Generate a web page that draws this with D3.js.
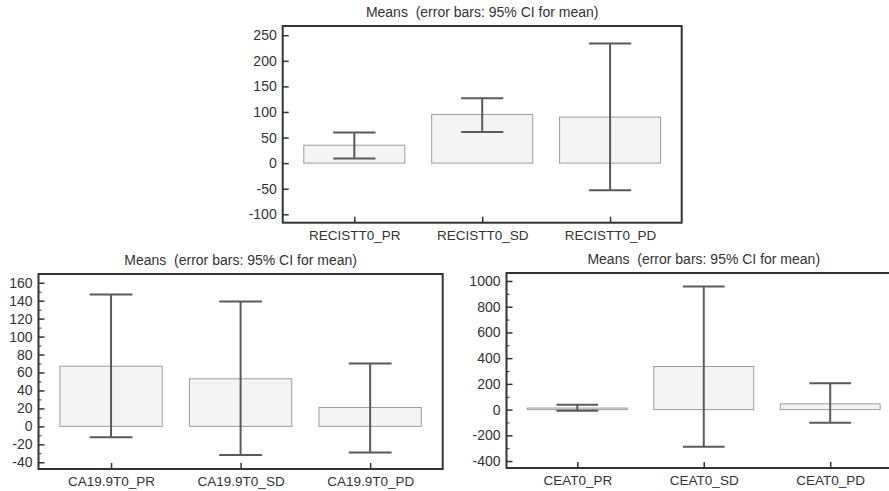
<!DOCTYPE html>
<html>
<head>
<meta charset="utf-8">
<script src="https://cdn.jsdelivr.net/npm/d3@7"></script>
<style>
  body { margin: 0; background: #fff; }
  svg { display: block; font-family: "Liberation Sans", Arial, sans-serif; }
  .title { white-space: pre; }
</style>
</head>
<body>
<svg width="889" height="491"></svg>
<script>
// chart values
var titleText = "Means  (error bars: 95% CI for mean)";

var recistCats = ["RECISTT0_PR", "RECISTT0_SD", "RECISTT0_PD"];
var recistMean = [35, 95, 90];
var recistLow  = [9, 61, -53];
var recistHigh = [60, 127, 234];
var recistTicks = [-100, -50, 0, 50, 100, 150, 200, 250];

var caCats = ["CA19.9T0_PR", "CA19.9T0_SD", "CA19.9T0_PD"];
var caMean = [67, 53, 21];
var caLow  = [-12, -32, -29];
var caHigh = [147, 139, 70];
var caTicks = [-40, -20, 0, 20, 40, 60, 80, 100, 120, 140, 160];
var caMinor = [-30, -10, 10, 30, 50, 70, 90, 110, 130, 150];

var ceaCats = ["CEAT0_PR", "CEAT0_SD", "CEAT0_PD"];
var ceaMean = [12, 335, 45];
var ceaLow  = [-8, -288, -102];
var ceaHigh = [38, 958, 205];
var ceaTicks = [-400, -200, 0, 200, 400, 600, 800, 1000];
var ceaMinor = [-300, -100, 100, 300, 500, 700, 900];

var svg = d3.select("svg");

function panel(opt) {
  var x = d3.scalePoint().domain(opt.cats).range([opt.left, opt.right]).padding(0.56);
  var y = d3.scaleLinear().domain(opt.ydom).range([opt.bottom, opt.top]);
  var step = x.step();
  var g = svg.append("g");

  var rows = opt.cats.map(function(c, i) {
    return {cat: c, mean: opt.mean[i], lo: opt.lo[i], hi: opt.hi[i]};
  });

  // bars
  g.selectAll(".bar").data(rows).enter().append("rect")
    .attr("x", function(d) { return x(d.cat) - step * 0.395; })
    .attr("width", step * 0.79)
    .attr("y", function(d) { return Math.min(y(d.mean), y(0)); })
    .attr("height", function(d) { return Math.abs(y(0) - y(d.mean)); })
    .attr("fill", "#f4f4f4")
    .attr("stroke", "#9c9c9c")
    .attr("stroke-width", 1);

  // error bars
  var eb = g.selectAll(".eb").data(rows).enter().append("g")
    .attr("stroke", "#5a5a5a").attr("stroke-width", 2);
  eb.append("line")
    .attr("x1", function(d) { return x(d.cat); })
    .attr("x2", function(d) { return x(d.cat); })
    .attr("y1", function(d) { return y(d.lo); })
    .attr("y2", function(d) { return y(d.hi); });
  [ "lo", "hi" ].forEach(function(k) {
    eb.append("line")
      .attr("x1", function(d) { return x(d.cat) - step * 0.165; })
      .attr("x2", function(d) { return x(d.cat) + step * 0.165; })
      .attr("y1", function(d) { return y(d[k]); })
      .attr("y2", function(d) { return y(d[k]); });
  });

  // y axis, ticks inside the frame
  var ya = g.append("g").attr("transform", "translate(" + opt.left + ",0)")
    .call(d3.axisRight(y).tickValues(opt.ticks).tickSize(6).tickFormat(d3.format("d")));
  ya.select(".domain").remove();
  ya.selectAll("line").attr("stroke", "#333").attr("stroke-width", 1.5);
  ya.selectAll("text")
    .attr("x", -6).attr("text-anchor", "end")
    .attr("fill", "#333").style("font-size", "14px")
    .text(function(d) { return d < 0 ? "-" + Math.abs(d) : d; });
  if (opt.minor) {
    g.append("g").attr("transform", "translate(" + opt.left + ",0)")
      .call(d3.axisRight(y).tickValues(opt.minor).tickSize(3).tickFormat(""))
      .call(function(s) { s.select(".domain").remove(); })
      .selectAll("line").attr("stroke", "#333").attr("stroke-width", 1);
  }

  // x axis, ticks upward inside
  var xa = g.append("g").attr("transform", "translate(0," + opt.bottom + ")")
    .call(d3.axisTop(x).tickSize(6));
  xa.select(".domain").remove();
  xa.selectAll("line").attr("stroke", "#333").attr("stroke-width", 1.5);
  xa.selectAll("text")
    .attr("y", 17).attr("dy", null)
    .attr("fill", "#333").style("font-size", "13.5px");

  // frame
  g.append("rect")
    .attr("x", opt.left).attr("y", opt.top)
    .attr("width", opt.right - opt.left).attr("height", opt.bottom - opt.top)
    .attr("fill", "none").attr("stroke", "#333").attr("stroke-width", 2);

  // title
  g.append("text")
    .attr("class", "title")
    .attr("x", (opt.left + opt.right) / 2).attr("y", opt.top - 9)
    .attr("text-anchor", "middle").attr("fill", "#333")
    .style("font-size", "14px")
    .text(titleText);
}

panel({cats: recistCats, mean: recistMean, lo: recistLow, hi: recistHigh,
  ticks: recistTicks, ydom: [-116.4, 268],
  left: 282.7, right: 681.7, top: 26, bottom: 222.7});

panel({cats: caCats, mean: caMean, lo: caLow, hi: caHigh,
  ticks: caTicks, minor: caMinor, ydom: [-47.5, 169.7],
  left: 38.5, right: 442.7, top: 274, bottom: 469});

panel({cats: ceaCats, mean: ceaMean, lo: ceaLow, hi: ceaHigh,
  ticks: ceaTicks, minor: ceaMinor, ydom: [-454, 1062],
  left: 506.5, right: 901, top: 273, bottom: 468});
</script>
</body>
</html>
